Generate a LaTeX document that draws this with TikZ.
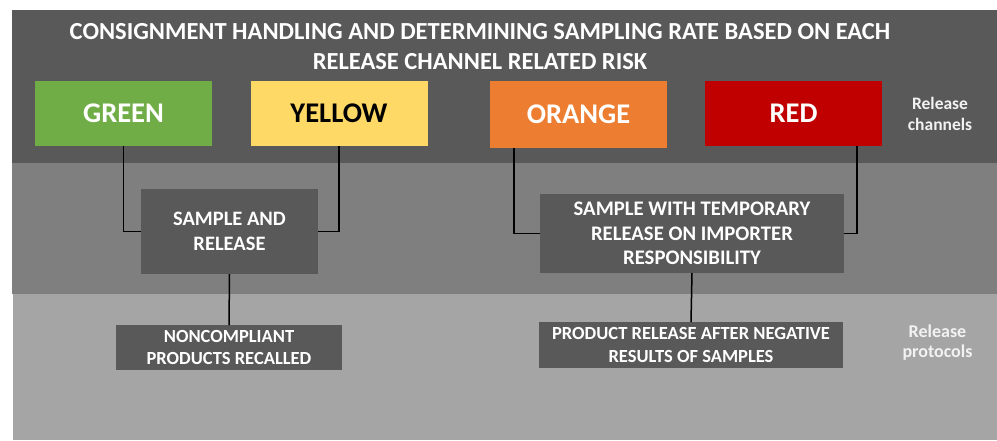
\documentclass[tikz,border=0pt]{standalone}
\usepackage{fontspec}
\setmainfont{Carlito}
\definecolor{bandA}{HTML}{595959}
\definecolor{bandB}{HTML}{7F7F7F}
\definecolor{bandC}{HTML}{A5A5A5}
\definecolor{boxgray}{HTML}{595959}
\definecolor{cgreen}{HTML}{70AD47}
\definecolor{cyellow}{HTML}{FFD966}
\definecolor{corange}{HTML}{ED7D31}
\definecolor{cred}{HTML}{C00000}
\definecolor{lbl}{HTML}{F2F2F2}
\tikzset{
  chan/.style={inner sep=0pt, outer sep=0pt, minimum width=177pt, minimum height=65pt, text=white, font=\bfseries\fontsize{28.5}{32}\selectfont},
  proc/.style={fill=boxgray, inner sep=0pt, outer sep=0pt, text=white, align=center},
  conn/.style={draw=black, line width=1.5pt},
  side/.style={text=lbl, align=center}
}
\begin{document}
\begin{tikzpicture}[x=1pt,y=-1pt]
\useasboundingbox (0,0) rectangle (997,440);
\fill[white] (0,0) rectangle (997,440);
\fill[bandA] (12,10) rectangle (997,163);
\fill[bandB] (12,163) rectangle (997,294);
\fill[bandC] (13,294) rectangle (997,440);

\node[text=white, align=center, font=\bfseries\fontsize{24.5}{30}\selectfont] (title) at (480,47)
  {CONSIGNMENT HANDLING AND DETERMINING SAMPLING RATE BASED ON EACH\\RELEASE CHANNEL RELATED RISK};

\node[chan, fill=cgreen] (green) at (123.5,113.5) {GREEN};
\node[chan, fill=cyellow, text=black] (yellow) at (339,113.5) {YELLOW};
\node[chan, fill=corange, minimum height=67pt] (orange) at (578.5,114.5) {ORANGE};
\node[chan, fill=cred] (red) at (793.5,113.5) {RED};

\node[side, font=\bfseries\fontsize{17.5}{21}\selectfont] (rch) at (940,113.5) {Release\\channels};
\node[side, font=\bfseries\fontsize{18}{19.5}\selectfont] (rpr) at (937.5,342.5) {Release\\protocols};

\node[proc, minimum width=177pt, minimum height=85pt, font=\bfseries\fontsize{20.5}{25}\selectfont] (sar) at (229.5,231.5) {SAMPLE AND\\RELEASE};
\node[proc, minimum width=304pt, minimum height=79pt, font=\bfseries\fontsize{20.7}{24.5}\selectfont] (temp) at (692,233.5) {SAMPLE WITH TEMPORARY\\RELEASE ON IMPORTER\\RESPONSIBILITY};
\node[proc, minimum width=226pt, minimum height=45pt, font=\bfseries\fontsize{18.5}{22}\selectfont] (nc) at (229,347.5) {NONCOMPLIANT\\PRODUCTS RECALLED};
\node[proc, minimum width=304pt, minimum height=46pt, font=\bfseries\fontsize{18.5}{23}\selectfont] (prod) at (691,345) {PRODUCT RELEASE AFTER NEGATIVE\\RESULTS OF SAMPLES};

\draw[conn] (green.south) |- (sar.west);
\draw[conn] (yellow.south) |- (sar.east);
\draw[conn] ([xshift=-64.5pt]orange.south) |- (temp.west);
\draw[conn] ([xshift=63.5pt]red.south) |- (temp.east);
\draw[conn] (sar.south) -- (nc.north);
\draw[conn] (temp.south) -- (prod.north);
\end{tikzpicture}
\end{document}
